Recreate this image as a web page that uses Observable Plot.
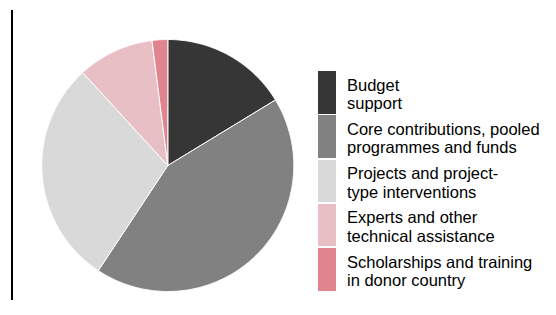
<!DOCTYPE html>
<html>
<head>
<meta charset="utf-8">
<script src="https://cdn.jsdelivr.net/npm/d3@7"></script>
<script src="https://cdn.jsdelivr.net/npm/@observablehq/plot@0.6"></script>
<style>
  html, body { margin: 0; padding: 0; background: #fff; }
  #wrap { position: relative; width: 556px; height: 315px; overflow: hidden; font-family: "Liberation Sans", Arial, sans-serif; }
  #vline { position: absolute; left: 11px; top: 10px; width: 2px; height: 290px; background: #000; }
  #legend { position: absolute; left: 318px; top: 71px; }
  .row { display: flex; align-items: flex-start; height: 42.5px; margin-bottom: 1.8px; }
  .sw { width: 18px; height: 100%; flex: none; }
  .lab { margin-left: 11px; font-size: 16.5px; line-height: 18.5px; color: #000; padding-top: 4.5px; white-space: nowrap; }
</style>
</head>
<body>
<div id="wrap">
  <div id="vline"></div>
  <div id="chart"></div>
  <div id="legend"></div>
</div>
<script>
const categories = [
  "Budget support",
  "Core contributions, pooled programmes and funds",
  "Projects and project-type interventions",
  "Experts and other technical assistance",
  "Scholarships and training in donor country"
];
const legendLines = [
  ["Budget", "support"],
  ["Core contributions, pooled", "programmes and funds"],
  ["Projects and project-", "type interventions"],
  ["Experts and other", "technical assistance"],
  ["Scholarships and training", "in donor country"]
];
const values = [16.3, 43.0, 28.9, 9.8, 2.0];
const colors = ["#363636", "#818181", "#d9d9d9", "#e9bfc6", "#e0848f"];

// Build slice outlines from the pie layout of the values
const arcs = d3.pie().sort(null).value(d => d)(values);
const points = [];
arcs.forEach((a, i) => {
  const cat = categories[i];
  points.push({cat, x: 0, y: 0});
  const n = Math.max(2, Math.ceil((a.endAngle - a.startAngle) / (Math.PI / 360)));
  for (let k = 0; k <= n; k++) {
    const t = a.startAngle + (a.endAngle - a.startAngle) * k / n;
    points.push({cat, x: Math.sin(t), y: Math.cos(t)});
  }
  points.push({cat, x: 0, y: 0});
});

const chart = Plot.plot({
  width: 556,
  height: 315,
  margin: 0,
  x: {domain: [-1, 1], range: [41.3, 293.3], axis: null},
  y: {domain: [-1, 1], range: [291, 39], axis: null},
  color: {domain: categories, range: colors},
  marks: [
    Plot.line(points, {x: "x", y: "y", z: "cat", fill: "cat", stroke: "#fff", strokeWidth: 1, curve: "linear-closed"})
  ]
});
document.getElementById("chart").appendChild(chart);

const legend = document.getElementById("legend");
categories.forEach((c, i) => {
  const row = document.createElement("div");
  row.className = "row";
  const sw = document.createElement("div");
  sw.className = "sw";
  sw.style.background = colors[i];
  const lab = document.createElement("div");
  lab.className = "lab";
  lab.innerHTML = legendLines[i].join("<br>");
  row.appendChild(sw);
  row.appendChild(lab);
  legend.appendChild(row);
});
</script>
</body>
</html>
